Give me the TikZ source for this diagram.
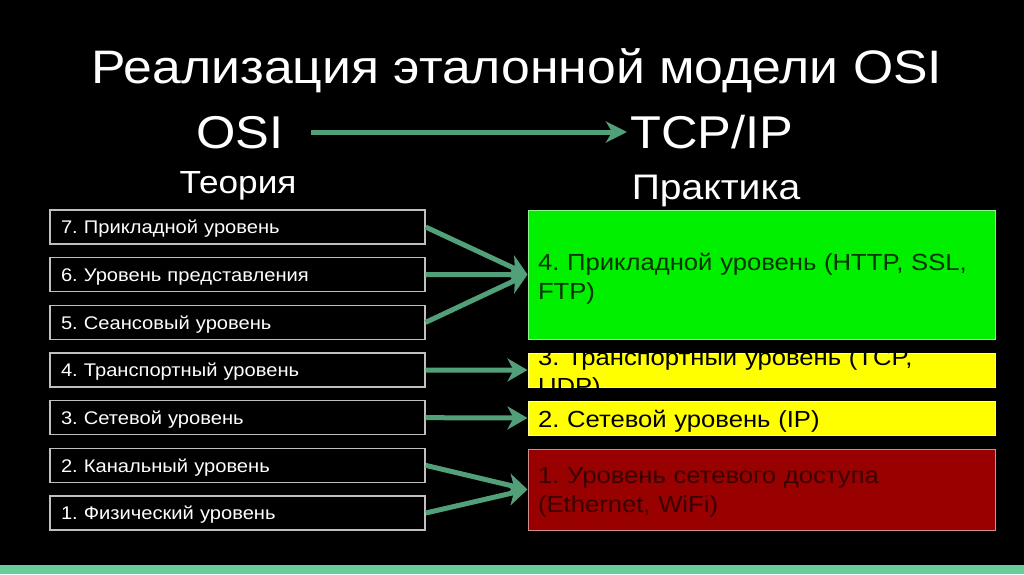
\documentclass[tikz,border=0pt]{standalone}
\usepackage{fontspec}
\setmainfont{Liberation Sans}
\newfontfamily\widefont[FakeStretch=1.1]{Liberation Sans}
\frenchspacing
\usetikzlibrary{arrows.meta}
\definecolor{linkgreen}{RGB}{82,160,122}
\definecolor{stripgreen}{RGB}{102,206,152}
\definecolor{tcpgreen}{RGB}{0,240,0}
\definecolor{tcpyellow}{RGB}{255,255,0}
\definecolor{tcpred}{RGB}{153,0,0}
\definecolor{redtext}{RGB}{58,0,0}

\begin{document}
\begin{tikzpicture}[x=1pt,y=-1pt,>={Stealth[length=20pt,width=23pt,inset=6pt]},
  osibox/.style={draw=white!75!black,line width=1.4pt,minimum width=375pt,minimum height=34pt,
    text width=353pt,align=left,inner xsep=11pt,inner ysep=0pt,text height=13.4pt,text depth=0pt,
    text=white,font=\widefont\fontsize{18.3}{22}\selectfont},
  tcpbox/.style={minimum width=467pt,text width=447pt,align=left,inner xsep=10pt,inner ysep=0pt,
    line width=1pt,font=\widefont\fontsize{23.3}{29}\selectfont},
  head/.style={text=white,inner sep=0pt,font=\widefont\fontsize{46}{46}\selectfont},
  link/.style={->,draw=linkgreen,line width=5pt}]
\fill[black] (0,0) rectangle (1024,574);
\fill[stripgreen] (0,565) rectangle (1024,574);
\node[head,anchor=base,font=\widefont\fontsize{47}{47}\selectfont] (title) at (517,83) {Реализация эталонной модели OSI};
\node[head,anchor=base west,text height=32pt,text depth=0pt] (osi) at (196,148) {OSI};
\node[head,anchor=base west,text height=32pt,text depth=0pt] (tcpip) at (630,148) {TCP/IP};
\node[head,anchor=base,font=\widefont\fontsize{32}{32}\selectfont] (theory) at (238,193) {Теория};
\node[head,anchor=base,font=\widefont\fontsize{35.5}{35.5}\selectfont] (practice) at (716,199) {Практика};
\draw[linkgreen,line width=5pt,-{Stealth[length=21pt,width=21pt,inset=6pt]},shorten <=27pt,shorten >=3pt] (osi.east) -- (tcpip.west);
\foreach \lab/\txt [count=\i from 0] in {l7/7. Прикладной уровень,l6/6. Уровень представления,
    l5/5. Сеансовый уровень,l4/4. Транспортный уровень,l3/3. Сетевой уровень,
    l2/2. Канальный уровень,l1/1. Физический уровень}
  \node[osibox] (\lab) at (237.5,227+47.67*\i) {\txt};
\node[tcpbox,fill=tcpgreen,draw=tcpgreen!45!white,minimum height=129pt,text height=17pt,text depth=26pt,text=black!80!green] (t4) at (761.5,274.5)
  {4. Прикладной уровень (HTTP, SSL,\\FTP)};
\node[tcpbox,fill=tcpyellow,draw=tcpyellow!45!white,minimum height=34pt,text height=5pt,text depth=15pt] (t3) at (761.5,370)
  {3. Транспортный уровень (TCP,\\UDP)};
\node[tcpbox,fill=tcpyellow,draw=tcpyellow!45!white,minimum height=34pt,text height=18pt,text depth=0pt] (t2) at (761.5,418)
  {2. Сетевой уровень (IP)};
\node[tcpbox,fill=tcpred,draw=tcpred!45!white,minimum height=81pt,text height=17pt,text depth=30pt,text=redtext] (t1) at (761.5,489.5)
  {1. Уровень сетевого доступа\\(Ethernet, WiFi)};
\draw[link] (l7.east) -- (t4.west);
\draw[link] (l6.east) -- (t4.west);
\draw[link] (l5.east) -- (t4.west);
\draw[link] (l4.east) -- (t3.west);
\draw[link] (l3.east) -- (t2.west);
\draw[link] (l2.east) -- (t1.west);
\draw[link] (l1.east) -- (t1.west);
\end{tikzpicture}
\end{document}
